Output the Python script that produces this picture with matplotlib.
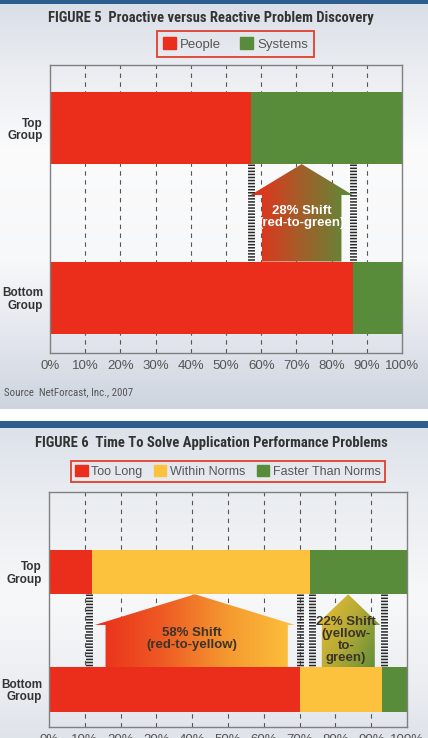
import numpy as np
import matplotlib
matplotlib.use("Agg")
import matplotlib.pyplot as plt
from matplotlib.patches import Polygon, Patch
from matplotlib.colors import LinearSegmentedColormap

# data
groups = ['Bottom\nGroup', 'Top\nGroup']
ticks = [0, 10, 20, 30, 40, 50, 60, 70, 80, 90, 100]
tick_labels = ['0%', '10%', '20%', '30%', '40%', '50%', '60%', '70%', '80%', '90%', '100%']

fig5_people = [86, 57]
fig5_systems = [14, 43]
fig5_shift = '28% Shift\n(red-to-green)'

fig6_too_long = [70, 12]
fig6_within = [23, 61]
fig6_faster = [7, 27]
fig6_shift_a = '58% Shift\n(red-to-yellow)'
fig6_shift_b = '22% Shift\n(yellow-\nto-\ngreen)'

RED = '#ea2e1b'
GREEN = '#588c3a'
YELLOW = '#fdc23d'
BLUE = '#2c5d8f'
DARK = '#333333'
GREY = '#555555'
NARROW = ['Roboto Condensed', 'Archivo Narrow', 'PT Sans Narrow', 'Liberation Sans', 'DejaVu Sans']
BODY = ['Liberation Sans', 'DejaVu Sans']
BOLD = ['Liberation Sans', 'DejaVu Sans']

W, H = 428, 738
fig = plt.figure(figsize=(W / 100, H / 100), dpi=100)


def fx(px):
    return px / W


def fy(py):
    return 1 - py / H


# background: two panels with soft vertical gradients, blue bands on top
bg = fig.add_axes([0, 0, 1, 1], zorder=-10)
rows = np.arange(H)
stops_y = [0, 60, 150, 260, 330, 409, 428, 500, 600, 680, 738]
stops_c = ['#d9dee7', '#e8ebf0', '#fbfbfc', '#f7f8f9', '#e5e8ee', '#cdd4df',
           '#dde2ea', '#eaedf1', '#f7f8f9', '#eceef2', '#dfe3ea']
rgb = np.array([matplotlib.colors.to_rgb(c) for c in stops_c])
img = np.stack([np.interp(rows, stops_y, rgb[:, k]) for k in range(3)], axis=-1)
img[rows < 4] = matplotlib.colors.to_rgb(BLUE)
img[(rows >= 409) & (rows < 421)] = 1.0
img[(rows >= 421) & (rows < 428)] = matplotlib.colors.to_rgb(BLUE)
bg.imshow(img[:, None, :], extent=(0, 1, 0, 1), aspect='auto', origin='upper')
bg.set_axis_off()


def setup_axes(ax, ylim):
    ax.set_facecolor('none')
    ax.set_xlim(0, 100)
    ax.set_ylim(*ylim)
    for x in ticks[1:-1]:
        ax.axvline(x, color=GREY, lw=0.8, dashes=(4, 4), zorder=0)
    ax.set_xticks(ticks)
    ax.set_xticklabels(tick_labels, fontsize=9.5, color=GREY, family=BODY)
    ax.tick_params(axis='x', length=0, pad=5)
    ax.set_yticks([0, 1])
    ax.set_yticklabels(groups, fontsize=8.5, fontweight='bold', color=DARK,
                       family=BOLD, linespacing=1.05)
    ax.tick_params(axis='y', length=0, pad=5)
    for s in ax.spines.values():
        s.set_color('#808080')
        s.set_linewidth(1.0)


def hatch_line(ax, x, y0, y1):
    ax.plot([x, x], [y0, y1], color='#2a2a2a', lw=5, dashes=(0.22, 0.22),
            solid_capstyle='butt', zorder=3)


def grad_arrow(ax, head_l, head_r, shaft_l, shaft_r, y0, y_head, y1, cmap, diag=0.0):
    tip = (head_l + head_r) / 2
    verts = [(shaft_l, y0), (shaft_r, y0), (shaft_r, y_head), (head_r, y_head),
             (tip, y1), (head_l, y_head), (shaft_l, y_head)]
    poly = Polygon(verts, closed=True, facecolor='none', edgecolor='none',
                   transform=ax.transData)
    ax.add_patch(poly)
    gx = np.linspace(0, 1, 200)
    gy = np.linspace(0, 1, 100)
    gg = gx[None, :] * (1 - diag) + gy[:, None] * diag
    im = ax.imshow(gg, cmap=cmap, extent=(head_l, head_r, y0, y1),
                   aspect='auto', origin='upper', zorder=2)
    im.set_clip_path(poly)


# ---------------- FIGURE 5 ----------------
ax1 = fig.add_axes([fx(50), fy(353), fx(352), (353 - 65) / H])
h1 = 0.425
setup_axes(ax1, (-0.327, 1.372))
ax1.barh([0, 1], fig5_people, height=h1, color=RED, zorder=2)
ax1.barh([0, 1], fig5_systems, left=fig5_people, height=h1, color=GREEN, zorder=2)

lo, hi = 0 + h1 / 2, 1 - h1 / 2
hatch_line(ax1, fig5_people[1], hi, lo)
hatch_line(ax1, fig5_people[0], hi, lo)
cm_rg = LinearSegmentedColormap.from_list('rg', [RED, '#a0602a', GREEN])
grad_arrow(ax1, fig5_people[1], fig5_people[0], fig5_people[1] + 3.2,
           fig5_people[0] - 3.2, lo, 0.605, hi, cm_rg)
ax1.text((fig5_people[0] + fig5_people[1]) / 2, 0.475, fig5_shift, ha='center',
         va='center', color='white', fontsize=9.5, fontweight='bold',
         family=BOLD, linespacing=1.05, zorder=4)

fig.text(0.493, fy(18), 'FIGURE 5  Proactive versus Reactive Problem Discovery',
         ha='center', va='center', fontsize=10.5, fontweight='bold', color=DARK,
         family=NARROW)
leg1 = ax1.legend([Patch(color=RED), Patch(color=GREEN)], ['People', 'Systems'],
                  loc='center', bbox_to_anchor=(fx(235.5), fy(44)),
                  bbox_transform=fig.transFigure, ncol=2, fontsize=9.5,
                  handlelength=1.0, handleheight=1.0, handletextpad=0.3,
                  columnspacing=1.4, borderpad=0.45, fancybox=False,
                  framealpha=1, facecolor='none')
leg1.get_frame().set_edgecolor('#e0402f')
leg1.get_frame().set_linewidth(1.3)
for t in leg1.get_texts():
    t.set_color(GREY)
    t.set_family(BODY)

fig.text(fx(4), fy(392), 'Source  NetForcast, Inc., 2007', ha='left', va='center',
         fontsize=7.8, color=GREY, family=NARROW)

# ---------------- FIGURE 6 ----------------
ax2 = fig.add_axes([fx(49), fy(727), fx(358), (727 - 492) / H])
h2 = 0.38
setup_axes(ax2, (-0.319, 1.68))
left_w = np.array(fig6_too_long)
left_f = left_w + np.array(fig6_within)
ax2.barh([0, 1], fig6_too_long, height=h2, color=RED, zorder=2)
ax2.barh([0, 1], fig6_within, left=left_w, height=h2, color=YELLOW, zorder=2)
ax2.barh([0, 1], fig6_faster, left=left_f, height=h2, color=GREEN, zorder=2)

lo, hi = 0 + h2 / 2, 1 - h2 / 2
for x in [left_w[1] - 0.8, left_w[0], left_f[1] + 0.5, left_f[0] + 0.6]:
    hatch_line(ax2, x, hi, lo)

cm_ry = LinearSegmentedColormap.from_list('ry', [RED, '#ee5a24', '#f59a30', YELLOW])
grad_arrow(ax2, left_w[1] + 0.8, left_w[0] - 1.3, left_w[1] + 3.8, left_w[0] - 3.3,
           lo, 0.549, hi, cm_ry)
ax2.text((left_w[0] + left_w[1]) / 2 - 1, 0.43, fig6_shift_a, ha='center',
         va='center', color='#3b332c', fontsize=9.5, fontweight='bold',
         family=BOLD, linespacing=1.05, zorder=4)

cm_yg = LinearSegmentedColormap.from_list('yg', ['#f2c232', '#b4aa36', GREEN])
grad_arrow(ax2, left_f[1] + 1.6, left_f[0] - 0.5, left_f[1] + 3.2, left_f[0] - 2.0,
           lo, 0.549, hi, cm_yg, diag=0.35)
ax2.text((left_f[0] + left_f[1]) / 2, 0.42, fig6_shift_b, ha='center',
         va='center', color='#3b332c', fontsize=9.5, fontweight='bold',
         family=BOLD, linespacing=1.0, zorder=4)

fig.text(0.494, fy(443), 'FIGURE 6  Time To Solve Application Performance Problems',
         ha='center', va='center', fontsize=10.5, fontweight='bold', color=DARK,
         family=NARROW)
leg2 = ax2.legend([Patch(color=RED), Patch(color=YELLOW), Patch(color=GREEN)],
                  ['Too Long', 'Within Norms', 'Faster Than Norms'],
                  loc='center', bbox_to_anchor=(fx(228), fy(471.5)),
                  bbox_transform=fig.transFigure, ncol=3, fontsize=9,
                  handlelength=1.0, handleheight=1.0, handletextpad=0.3,
                  columnspacing=0.9, borderpad=0.3, fancybox=False,
                  framealpha=1, facecolor='none')
leg2.get_frame().set_edgecolor('#e0402f')
leg2.get_frame().set_linewidth(1.3)
for t in leg2.get_texts():
    t.set_color(GREY)
    t.set_family(BODY)

fig.savefig('out.png', dpi=100)
